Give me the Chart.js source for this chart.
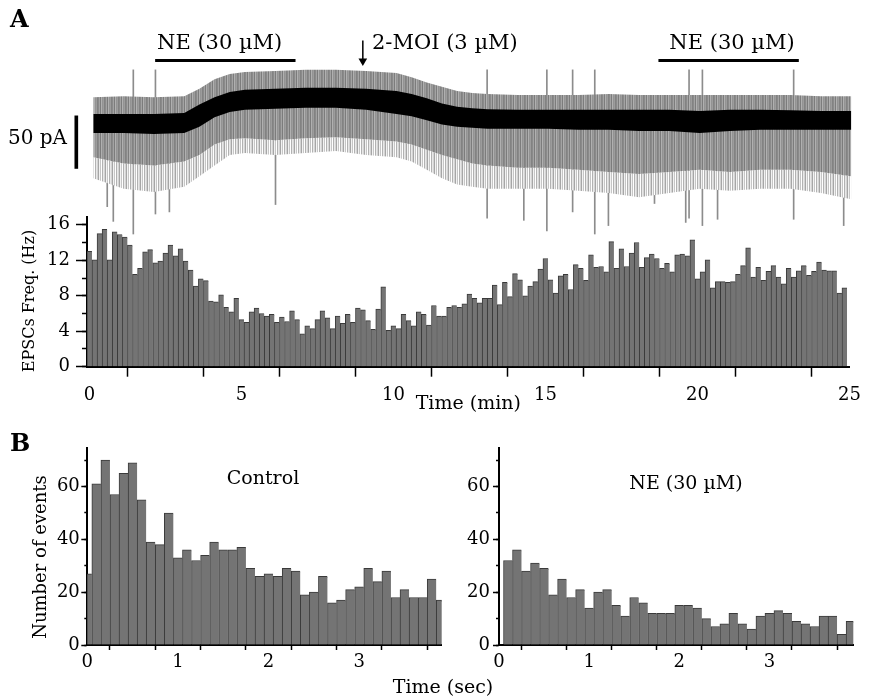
<!DOCTYPE html>
<html>
<head>
<meta charset="utf-8">
<script src="https://cdn.jsdelivr.net/npm/chart.js@4.4.0/dist/chart.umd.min.js"></script>
<style>
  html, body { margin: 0; padding: 0; background: #fff; }
  #fig { position: relative; width: 869px; height: 696px; overflow: hidden; font-family: 'DejaVu Serif', serif; color: #000; }
  #fig canvas { position: absolute; }
  .lbl { position: absolute; white-space: nowrap; line-height: 1; }
  .rot { transform: translate(-50%, -50%) rotate(-90deg); }
  .mid { transform: translate(-50%, -50%); }
</style>
</head>
<body>
<div id="fig">
  <canvas id="histA" width="869" height="215" style="left:0;top:200px"></canvas>
  <canvas id="ctrl" width="450" height="266" style="left:0;top:430px"></canvas>
  <canvas id="ne" width="429" height="266" style="left:440px;top:430px"></canvas>
  <canvas id="trace" width="869" height="230" style="left:0;top:20px"></canvas>

  <div class="lbl" style="left:10px;top:7px;font-size:24px;font-weight:bold">A</div>
  <div class="lbl" style="left:157px;top:32px;font-size:21px">NE (30 µM)</div>
  <div class="lbl" style="left:372px;top:32px;font-size:21px">2-MOI (3 µM)</div>
  <div class="lbl" style="left:732px;top:32px;font-size:21px;transform:translateX(-50%)">NE (30 µM)</div>
  <div class="lbl" style="left:8px;top:127px;font-size:20px">50 pA</div>
  <div class="lbl rot" style="left:29px;top:301px;font-size:16px">EPSCs Freq. (Hz)</div>

  <div class="lbl" style="left:10px;top:431px;font-size:24px;font-weight:bold">B</div>
  <div class="lbl rot" style="left:40px;top:557px;font-size:18px">Number of events</div>
  <div class="lbl mid" style="left:263px;top:477px;font-size:19px">Control</div>
  <div class="lbl mid" style="left:686px;top:482px;font-size:19px">NE (30 µM)</div>
  <div class="lbl mid" style="left:443px;top:686px;font-size:19px">Time (sec)</div>
</div>

<script>
// EPSC frequency, one bar per 10 s bin (Hz)
var freqBinMin = 1 / 6;
var freqValues = [
  13.0, 12.05, 15.0, 15.5, 12.05, 15.2, 14.9, 14.6, 13.7, 10.4, 11.1, 12.95, 13.2, 11.7, 11.9,
  12.8, 13.7, 12.5, 13.3, 11.9, 10.9, 9.1, 9.9, 9.7, 7.4, 7.3, 8.1, 6.7, 6.2, 7.7,
  5.3, 5.0, 6.2, 6.6, 6.0, 5.7, 5.9, 5.0, 5.6, 5.1, 6.3, 5.3, 3.7, 4.6, 4.3,
  5.3, 6.3, 5.5, 4.3, 5.7, 4.9, 5.9, 5.0, 6.6, 6.4, 5.2, 4.2, 6.5, 9.0, 4.1,
  4.6, 4.3, 5.9, 5.2, 4.6, 6.2, 5.9, 4.7, 6.9, 5.7, 5.7, 6.7, 6.9, 6.7, 7.1,
  8.2, 7.7, 7.2, 7.7, 7.7, 9.2, 7.0, 9.5, 7.9, 10.5, 9.8, 8.0, 9.1, 9.6, 11.0,
  12.2, 9.8, 8.3, 10.25, 10.4, 8.7, 11.5, 11.1, 9.75, 12.6, 11.2, 11.3, 10.7, 14.1, 11.1,
  13.3, 11.3, 12.8, 14.0, 11.2, 12.3, 12.7, 12.2, 11.1, 11.65, 10.7, 12.6, 12.7, 12.5, 14.3,
  9.9, 10.7, 12.05, 8.9, 9.6, 9.6, 9.5, 9.6, 10.4, 11.4, 13.4, 10.1, 11.2, 9.75, 10.75,
  11.4, 10.1, 9.35, 11.1, 10.1, 10.8, 11.4, 10.3, 10.75, 11.8, 10.9, 10.8, 10.8, 8.3, 8.9
];
var freqYLabels = [0, 4, 8, 12, 16];
var timeMinLabels = [0, 5, 10, 15, 20, 25];

// event histograms, 0.1 s bins
var isiBins = [0, 0.1, 0.2, 0.3, 0.4, 0.5, 0.6, 0.7, 0.8, 0.9, 1.0, 1.1, 1.2, 1.3, 1.4, 1.5, 1.6, 1.7, 1.8, 1.9,
  2.0, 2.1, 2.2, 2.3, 2.4, 2.5, 2.6, 2.7, 2.8, 2.9, 3.0, 3.1, 3.2, 3.3, 3.4, 3.5, 3.6, 3.7, 3.8, 3.9];
var controlCounts = [27, 61, 70, 57, 65, 69, 55, 39, 38, 50, 33, 36, 32, 34, 39, 36, 36, 37, 29, 26,
  27, 26, 29, 28, 19, 20, 26, 16, 17, 21, 22, 29, 24, 28, 18, 21, 18, 18, 25, 17];
var neCounts = [0, 32, 36, 28, 31, 29, 19, 25, 18, 21, 14, 20, 21, 15, 11, 18, 16, 12, 12, 12,
  15, 15, 14, 10, 7, 8, 12, 8, 6, 11, 12, 13, 12, 9, 8, 7, 11, 11, 4, 9];
var countLabels = [0, 20, 40, 60];
var timeSecLabels = [0, 1, 2, 3];

// current trace: envelope knots (min) and levels (pA)
var traceTimes = [0, 1, 2, 3, 3.5, 4, 4.5, 5, 6, 7, 8, 9, 10, 10.5, 11, 11.5, 12, 12.5, 13,
  14, 15, 16, 17, 18, 19, 20, 21, 22, 23, 24, 25];
var blackTop = [9, 9, 9, 10, 18, 25, 30, 32, 33, 34, 34, 33, 31, 28, 24, 19, 16, 14.5, 13.5,
  13, 13, 13, 13, 13, 13, 12, 13, 13, 12.5, 12, 12];
var blackBottom = [-9, -9, -10, -9, -3, 6, 11, 13, 14, 15, 15, 13, 9, 7, 3, -1, -3, -4, -5,
  -5, -5, -6, -6, -7, -7, -9, -7, -6, -6, -6, -6];
var grayTop = [25, 26, 25, 26, 33, 42, 47, 49, 50, 51, 51, 50, 48, 44, 39, 35, 31, 29, 28,
  27, 27, 27, 28, 27, 27, 27, 27, 27, 27, 26, 26];
var grayBottom = [-32, -38, -40, -36, -30, -20, -15, -14, -16, -14, -13, -15, -17, -20, -25, -30, -34, -38, -40,
  -42, -42, -44, -46, -48, -46, -44, -46, -44, -44, -46, -50];
var sparseBottom = [-52, -62, -65, -60, -50, -40, -30, -28, -30, -28, -26, -30, -32, -36, -44, -52, -58, -60, -62,
  -62, -62, -64, -66, -70, -66, -62, -64, -62, -62, -66, -72];
var spikeTimes = [0.46, 0.66, 1.32, 2.05, 2.51, 6.01, 12.99, 14.2, 14.96, 15.81, 16.54, 16.99,
  18.51, 19.54, 19.65, 20.09, 20.59, 23.1, 24.75];
var spikeLow = [-79, -93, -105, -86, -84, -77, -90, -92, -102, -84, -105, -97, -76, -94, -90, -97, -91, -91, -97];
var spikeHigh = [20, 20, 51, 51, 22, 46, 51, 25, 51, 51, 51, 25, 24, 24, 51, 51, 24, 51, 23];
var neStart = [2.04, 18.64];
var neEnd = [6.67, 23.27];
var neLevel = 60;
var moiTime = 8.89;
var moiArrow = [79, 59.5];
var scaleBarTime = -0.56;
var scaleBarPA = [-42.7, 7.3];

Chart.defaults.font.family = "'DejaVu Serif', serif";
Chart.defaults.color = '#000';

var barFill = '#747474';
var barEdge = '#3a3a3a';

// fine vertical texture for the noisy current band
function stripes(colors) {
  var c = document.createElement('canvas');
  c.width = colors.length;
  c.height = 1;
  var g = c.getContext('2d');
  colors.forEach(function (col, i) {
    g.fillStyle = col;
    g.fillRect(i, 0, 1, 1);
  });
  return g.createPattern(c, 'repeat');
}

function pts(xs, ys) {
  return xs.map(function (x, i) { return { x: x, y: ys[i] }; });
}

// ---- panel A trace ----
var neSegments = [];
neStart.forEach(function (s, i) {
  if (i > 0) neSegments.push({ x: (neEnd[i - 1] + s) / 2, y: null });
  neSegments.push({ x: s, y: neLevel });
  neSegments.push({ x: neEnd[i], y: neLevel });
});

var denseGray = stripes(['#8a8a8a', '#a3a3a3', '#7c7c7c', '#b0b0b0', '#939393', '#9c9c9c', '#828282']);
var sparseGray = stripes(['#a6a6a6', '#f2f2f2', '#c6c6c6', '#ffffff', '#b2b2b2', '#e8e8e8', '#d4d4d4']);

new Chart(document.getElementById('trace').getContext('2d'), {
  type: 'bar',
  data: {
    datasets: [
      { type: 'line', data: pts(traceTimes, blackTop), fill: 1, backgroundColor: '#000', borderWidth: 0, pointRadius: 0, order: 3 },
      { type: 'line', data: pts(traceTimes, blackBottom), fill: false, borderWidth: 0, pointRadius: 0, order: 3 },
      { type: 'line', data: pts(traceTimes, grayTop), fill: 3, backgroundColor: denseGray, borderWidth: 0, pointRadius: 0, order: 4 },
      { type: 'line', data: pts(traceTimes, grayBottom), fill: 4, backgroundColor: sparseGray, borderWidth: 0, pointRadius: 0, order: 5 },
      { type: 'line', data: pts(traceTimes, sparseBottom), fill: false, borderWidth: 0, pointRadius: 0, order: 5 },
      {
        type: 'bar',
        data: spikeTimes.map(function (t, i) { return { x: t, y: [spikeLow[i], spikeHigh[i]] }; }),
        backgroundColor: '#8c8c8c', barThickness: 1, grouped: false, order: 6
      },
      {
        type: 'bar',
        data: [{ x: scaleBarTime, y: scaleBarPA }],
        backgroundColor: '#000', barThickness: 3, grouped: false, order: 1
      },
      { type: 'line', data: neSegments, borderColor: '#000', borderWidth: 3, pointRadius: 0, fill: false, spanGaps: false, order: 1 },
      {
        type: 'line',
        data: [{ x: moiTime, y: moiArrow[0] }, { x: moiTime, y: moiArrow[1] }],
        borderColor: '#000', borderWidth: 1.5, fill: false,
        pointRadius: [0, 5], pointStyle: 'triangle', rotation: 180,
        pointBackgroundColor: '#000', pointBorderWidth: 0, order: 1
      }
    ]
  },
  options: {
    responsive: false,
    animation: false,
    devicePixelRatio: 1,
    layout: { padding: 0 },
    plugins: { legend: { display: false }, tooltip: { enabled: false } },
    scales: {
      x: { type: 'linear', min: -2.912, max: 25.42, offset: false, display: false },
      y: { min: -115.45, max: 93.64, display: false }
    }
  }
});

// ---- panel A frequency histogram ----
new Chart(document.getElementById('histA').getContext('2d'), {
  type: 'bar',
  data: {
    datasets: [{
      data: freqValues.map(function (v, i) { return { x: i * freqBinMin, y: v }; }),
      backgroundColor: barFill,
      borderColor: barEdge,
      borderWidth: { left: 1, top: 1, right: 0, bottom: 0 },
      borderSkipped: false,
      barPercentage: 1,
      categoryPercentage: 1
    }]
  },
  options: {
    responsive: false,
    animation: false,
    devicePixelRatio: 1,
    layout: { padding: { left: 14, right: 12.5, top: 11.7, bottom: 0 } },
    plugins: { legend: { display: false }, tooltip: { enabled: false } },
    scales: {
      x: {
        type: 'linear', min: -0.08, max: 25, offset: false,
        ticks: {
          stepSize: 2.5, autoSkip: false, maxRotation: 0, includeBounds: false, padding: 8,
          font: { size: 18 },
          callback: function (v) { return timeMinLabels.indexOf(v) >= 0 ? v : ''; }
        },
        grid: { drawOnChartArea: false, tickLength: 10, tickWidth: 1.5, tickColor: '#000' },
        border: { color: '#000', width: 2 },
        title: { display: true, text: 'Time (min)', font: { size: 19 }, padding: { top: 0, bottom: 0 } },
        afterFit: function (s) { s.height = 48.3; }
      },
      y: {
        position: 'left', weight: 1, min: 0, max: 16.9,
        ticks: {
          stepSize: 4, includeBounds: false, padding: 6, font: { size: 18 },
          callback: function (v) { return freqYLabels.indexOf(v) >= 0 ? v : ''; }
        },
        grid: { drawOnChartArea: false, tickLength: 11, tickWidth: 1.5, tickColor: '#000' },
        border: { color: '#000', width: 2 },
        afterFit: function (s) { s.width = 73; }
      },
      yMinor: {
        position: 'left', weight: 0, min: 0, max: 16.9,
        ticks: { stepSize: 2, includeBounds: false, display: false },
        grid: { drawOnChartArea: false, tickLength: 5, tickWidth: 1.5, tickColor: '#000' },
        border: { display: false },
        afterFit: function (s) { s.width = 0; }
      }
    }
  }
});

// ---- panel B histograms ----
function isiChart(id, counts, xMax, pad, yWidth, yLabelPad) {
  return new Chart(document.getElementById(id).getContext('2d'), {
    type: 'bar',
    data: {
      datasets: [{
        data: counts.map(function (v, i) { return { x: isiBins[i], y: v }; }),
        backgroundColor: barFill,
        borderColor: barEdge,
        borderWidth: { left: 1, top: 1, right: 0, bottom: 0 },
        borderSkipped: false,
        barPercentage: 1,
        categoryPercentage: 1
      }]
    },
    options: {
      responsive: false,
      animation: false,
      devicePixelRatio: 1,
      layout: { padding: pad },
      plugins: { legend: { display: false }, tooltip: { enabled: false } },
      scales: {
        x: {
          type: 'linear', min: 0, max: xMax, offset: false,
          ticks: {
            stepSize: 0.5, autoSkip: false, maxRotation: 0, includeBounds: false, padding: 2,
            font: { size: 18 },
            callback: function (v) { return timeSecLabels.indexOf(v) >= 0 ? v : ''; }
          },
          grid: { drawOnChartArea: false, tickLength: 5, tickWidth: 1.5, tickColor: '#000' },
          border: { color: '#000', width: 2 },
          afterFit: function (s) { s.height = 51; }
        },
        y: {
          position: 'left', weight: 1, min: 0, max: 74.5,
          ticks: {
            stepSize: 20, includeBounds: false, padding: yLabelPad, font: { size: 18 },
            callback: function (v) { return countLabels.indexOf(v) >= 0 ? v : ''; }
          },
          grid: { drawOnChartArea: false, tickLength: 6, tickWidth: 1.5, tickColor: '#000' },
          border: { color: '#000', width: 2 },
          afterFit: function (s) { s.width = yWidth; }
        },
        yMinor: {
          position: 'left', weight: 0, min: 0, max: 74.5,
          ticks: { stepSize: 10, includeBounds: false, display: false },
          grid: { drawOnChartArea: false, tickLength: 3, tickWidth: 1.5, tickColor: '#000' },
          border: { display: false },
          afterFit: function (s) { s.width = 0; }
        }
      }
    }
  });
}

isiChart('ctrl', controlCounts, 3.91, { left: 10, right: 8.3, top: 18.3, bottom: 0 }, 77.3, 1.5);
isiChart('ne', neCounts, 3.93, { left: 10, right: 15.7, top: 18.3, bottom: 0 }, 49, 3);
</script>
</body>
</html>
